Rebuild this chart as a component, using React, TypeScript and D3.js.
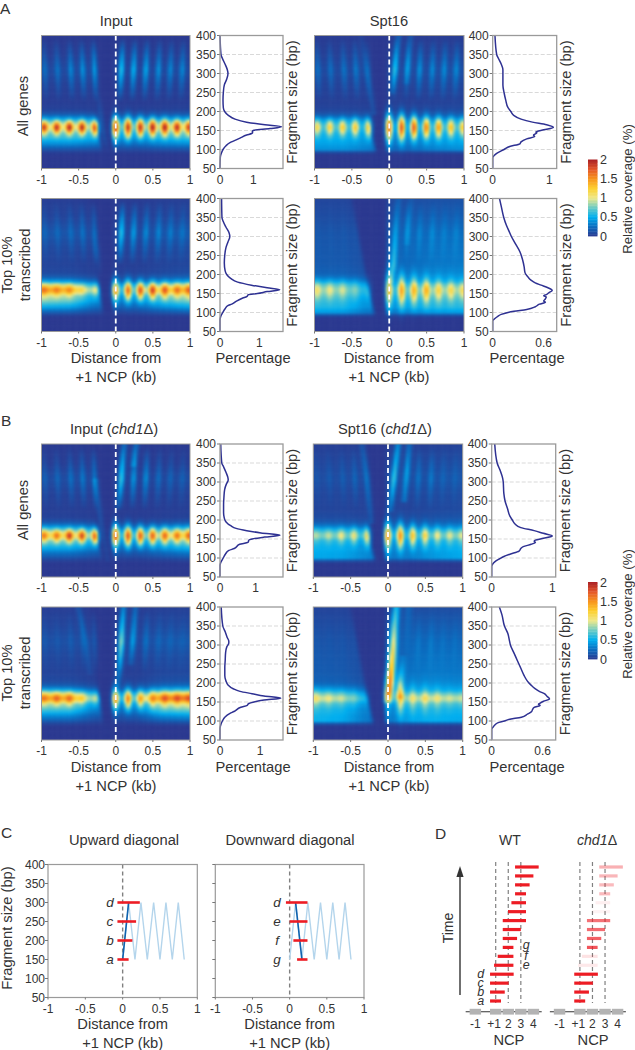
import React, { useMemo } from "react";
import * as d3 from "d3";

const FONT = "'Liberation Sans', Arial, sans-serif";
const INK = "#333333";

// ---- shared axes ----
const sizeTicks = [50, 100, 150, 200, 250, 300, 350, 400];
const distTicks = [-1, -0.5, 0, 0.5, 1];
const distLabels = ["-1", "-0.5", "0", "0.5", "1"];

// ---- colour key ----
const colorStops = [0, 0.25, 0.5, 0.75, 1, 1.25, 1.5, 1.75, 2];
const colorValues = ["#2b3990", "#0b6cbf", "#00aeef", "#6ccbc4", "#eee88a", "#fdd02f", "#f7941d", "#e4572a", "#a91f24"];
const keyTicks = [0, 0.5, 1, 1.5, 2];

// ---- heatmap: horizontal band level by fragment size ----
const bandSizes = [50, 85, 92, 100, 115, 130, 145, 160, 172, 182, 192, 205, 230, 270, 310, 350, 400];
const a1Band = [0, 0, 0.02, 0.12, 0.38, 0.62, 0.75, 1.05, 0.8, 0.45, 0.18, 0.05, 0.02, 0.03, 0.08, 0.02, 0];
const a2Band = [0, 0, 0.02, 0.14, 0.42, 0.68, 0.85, 1.35, 0.95, 0.45, 0.2, 0.09, 0.06, 0.08, 0.15, 0.06, 0.03];
const a3Band = [0, 0, 0.04, 0.42, 0.5, 0.55, 0.58, 0.7, 0.58, 0.4, 0.2, 0.1, 0.05, 0.07, 0.12, 0.05, 0.02];
const a4Band = [0, 0, 0.05, 0.42, 0.58, 0.62, 0.72, 0.85, 0.72, 0.52, 0.42, 0.36, 0.3, 0.28, 0.25, 0.18, 0.12];
const b1Band = [0, 0, 0.02, 0.12, 0.3, 0.55, 0.75, 1.2, 0.85, 0.45, 0.18, 0.05, 0.03, 0.04, 0.09, 0.02, 0.01];
const b2Band = [0, 0, 0.03, 0.15, 0.35, 0.6, 0.8, 1.4, 1.0, 0.5, 0.22, 0.1, 0.06, 0.08, 0.13, 0.07, 0.03];
const b3Band = [0, 0, 0.05, 0.5, 0.52, 0.55, 0.6, 0.85, 0.65, 0.4, 0.25, 0.15, 0.09, 0.1, 0.15, 0.1, 0.05];
const b4Band = [0, 0, 0.05, 0.5, 0.52, 0.55, 0.65, 0.95, 0.72, 0.5, 0.42, 0.35, 0.3, 0.27, 0.23, 0.17, 0.1];

// ---- heatmap: band strength along the distance axis ----
const gainX = [-1, -0.6, -0.3, 0, 0.3, 0.6, 1];
const a1Gain = [0.95, 0.95, 0.8, 0.6, 0.6, 0.85, 0.95];
const a2Gain = [1.15, 1.05, 0.6, 0.4, 0.5, 0.85, 1.1];
const a3Gain = [0.9, 0.9, 0.75, 0.5, 0.55, 0.75, 0.9];
const a4Gain = [1.0, 0.95, 0.65, 0.6, 0.8, 0.95, 1.0];
const b1Gain = [1.0, 0.95, 0.65, 0.45, 0.45, 0.75, 1.05];
const b2Gain = [1.1, 1.05, 0.55, 0.35, 0.5, 1.1, 1.25];
const b3Gain = [0.95, 0.9, 0.7, 0.55, 0.6, 0.8, 0.95];
const b4Gain = [1.05, 0.95, 0.6, 0.5, 0.9, 1.0, 0.95];

// ---- heatmap: left-side attenuation above the mononucleosome band ----
const upperLeft = { a1: 1, a2: 0.8, a3: 0.7, a4: 0.55, b1: 1, b2: 0.8, b3: 0.7, b4: 0.55 };

// ---- heatmap: nucleosome spots at 158 bp ----
const spotX = [-0.96, -0.79, -0.62, -0.45, -0.27, 0, 0.17, 0.335, 0.5, 0.665, 0.83, 0.99];
const spotHeight = [12, 12, 12, 13, 14, 20, 19, 17, 16, 15, 14, 13];
const spotStretch = { a1: 1, a2: 1, a3: 1.25, a4: 1.5, b1: 1, b2: 1, b3: 1.25, b4: 1.5 };
const a1Spots = [1.0, 1.05, 1.1, 1.15, 1.2, 1.3, 1.35, 1.35, 1.3, 1.2, 1.1, 1.0];
const a2Spots = [0.25, 0.25, 0.25, 0.15, 0.3, 1.0, 1.15, 1.15, 1.0, 0.7, 0.45, 0.4];
const a3Spots = [0.6, 0.65, 0.7, 0.75, 0.85, 1.35, 1.45, 1.4, 1.15, 1.0, 0.8, 0.7];
const a4Spots = [0.3, 0.25, 0.2, 0.15, 0.15, 0.85, 0.9, 0.75, 0.7, 0.45, 0.4, 0.35];
const b1Spots = [0.55, 0.6, 0.9, 1.0, 1.2, 1.3, 1.3, 1.25, 1.05, 0.85, 0.65, 0.6];
const b2Spots = [0.25, 0.35, 0.35, 0.25, 0.25, 1.05, 1.05, 0.75, 0.45, 0.35, 0.3, 0.2];
const b3Spots = [0.15, 0.2, 0.35, 0.45, 0.7, 1.1, 1.1, 0.85, 0.65, 0.4, 0.3, 0.25];
const b4Spots = [0.2, 0.15, 0.1, 0.1, 0.05, 0.3, 0.65, 0.3, 0.3, 0.2, 0.1, 0.1];

// ---- heatmap: dinucleosome stripes around 310 bp ----
const stripeX = [-0.95, -0.78, -0.6, -0.44, -0.28, 0.08, 0.245, 0.41, 0.58, 0.74, 0.9];
const stripeShapeSizes = [225, 270, 310, 350, 395];
const stripeShape = [0, 0.55, 1, 0.6, 0];
const a1Stripes = [0.2, 0.22, 0.3, 0.35, 0.45, 0.6, 0.5, 0.45, 0.35, 0.3, 0.3];
const a2Stripes = [0.1, 0.12, 0.15, 0.2, 0.25, 0.6, 0.4, 0.3, 0.25, 0.2, 0.15];
const a3Stripes = [0.2, 0.2, 0.22, 0.25, 0.15, 0.3, 0.25, 0.35, 0.3, 0.3, 0.28];
const a4Stripes = [0.02, 0.02, 0.02, 0.02, 0, 0.1, 0.15, 0.15, 0.15, 0.1, 0.1];
const b1Stripes = [0.12, 0.15, 0.2, 0.25, 0.3, 0.35, 0.4, 0.35, 0.2, 0.15, 0.12];
const b2Stripes = [0.05, 0.05, 0.08, 0.1, 0.15, 0.1, 0.1, 0.2, 0.1, 0.08, 0.05];
const b3Stripes = [0.05, 0.08, 0.1, 0.15, 0.05, 0.1, 0.05, 0.2, 0.2, 0.1, 0.08];
const b4Stripes = [0.02, 0.02, 0.02, 0.02, 0, 0, 0, 0.08, 0.08, 0.05, 0.05];

// ---- heatmap: leaning streaks, as [size, distance, level] knots ----
type Knot = [number, number, number];
const a1Streaks: Knot[][] = [[[90, -0.1, 0.0], [130, -0.15, 0.1], [190, -0.2, 0.12], [260, -0.25, 0.0]]];
const a2Streaks: Knot[][] = [[[190, -0.21, 0.0], [260, -0.25, 0.1], [320, -0.29, 0.0]]];
const a3Streaks: Knot[][] = [
  [[250, 0.04, 0.1], [310, 0.08, 0.3], [400, 0.13, 0.18]],
  [[270, 0.235, 0.1], [330, 0.26, 0.2], [400, 0.29, 0.12]],
  [[190, -0.2, 0.1], [310, -0.3, 0.15], [400, -0.37, 0.03]],
];
const a4Streaks: Knot[][] = [
  [[180, 0.03, 0.2], [225, 0.06, 0.45], [310, 0.09, 0.2], [400, 0.13, 0.1]],
  [[280, 0.24, 0.08], [350, 0.27, 0.12], [400, 0.3, 0.05]],
];
const b1Streaks: Knot[][] = [
  [[230, 0.03, 0.1], [310, 0.08, 0.3], [400, 0.12, 0.25]],
  [[340, 0.24, 0.2], [400, 0.28, 0.25]],
  [[90, -0.1, 0.05], [200, -0.2, 0.1], [300, -0.27, 0.15]],
];
const b2Streaks: Knot[][] = [
  [[190, 0.03, 0.1], [250, 0.06, 0.4], [310, 0.08, 0.72], [350, 0.09, 0.5], [400, 0.11, 0.32]],
  [[250, 0.2, 0.1], [310, 0.23, 0.32], [400, 0.27, 0.2]],
  [[220, -0.34, 0.05], [310, -0.4, 0.14], [400, -0.5, 0.1]],
];
const b3Streaks: Knot[][] = [
  [[220, 0.03, 0.15], [310, 0.085, 0.5], [400, 0.14, 0.35]],
  [[250, 0.22, 0.2], [330, 0.26, 0.35], [400, 0.29, 0.2]],
  [[190, -0.22, 0.12], [310, -0.28, 0.25], [400, -0.34, 0.12]],
];
const b4Streaks: Knot[][] = [
  [[150, 0, 0.4], [180, 0.02, 1.2], [210, 0.035, 1.4], [250, 0.055, 1.15], [300, 0.075, 0.95], [350, 0.09, 0.7], [400, 0.115, 0.5]],
  [[160, 0.16, 0.3], [200, 0.165, 0.4], [260, 0.2, 0.1]],
  [[280, 0.25, 0.02], [400, 0.28, 0.12]],
];

// ---- heatmap: depleted wedge left edge by fragment size ----
const wedgeSizes = [100, 160, 400];
const wedgeAll = [-0.18, -0.26, -0.35];
const wedgeTopInput = [-0.17, -0.22, -0.35];
const wedgeTopSpt = [-0.2, -0.27, -0.5];

// ---- marginal fragment-size curves: size, percentage ----
const a1CurveSize = [400, 350, 340, 325, 310, 300, 285, 270, 250, 230, 210, 200, 190, 180, 172, 165, 160, 155, 150, 147, 144, 142, 138, 130, 122, 118, 110, 100, 90, 80, 50];
const a1CurvePct = [0, 0.03, 0.07, 0.15, 0.22, 0.24, 0.2, 0.13, 0.1, 0.09, 0.1, 0.14, 0.25, 0.45, 0.8, 1.35, 1.85, 1.5, 1.0, 0.97, 0.98, 0.95, 0.8, 0.6, 0.4, 0.3, 0.18, 0.09, 0.04, 0.01, 0];
const a2CurveSize = [400, 350, 340, 325, 310, 300, 285, 270, 250, 230, 210, 200, 190, 180, 172, 165, 160, 155, 150, 147, 144, 142, 138, 130, 122, 118, 110, 100, 90, 80, 50];
const a2CurvePct = [0.04, 0.05, 0.08, 0.15, 0.23, 0.25, 0.2, 0.15, 0.12, 0.11, 0.13, 0.17, 0.27, 0.45, 0.8, 1.2, 1.52, 1.2, 0.95, 0.72, 0.7, 0.68, 0.58, 0.42, 0.3, 0.2, 0.13, 0.07, 0.02, 0, 0];
const a3CurveSize = [400, 350, 340, 325, 310, 300, 270, 250, 230, 210, 200, 190, 180, 172, 165, 158, 152, 146, 144, 142, 138, 134, 128, 120, 115, 108, 100, 90, 85, 78, 50];
const a3CurvePct = [0.04, 0.07, 0.1, 0.15, 0.18, 0.18, 0.18, 0.2, 0.23, 0.27, 0.32, 0.37, 0.5, 0.7, 0.95, 1.07, 0.9, 0.76, 0.78, 0.76, 0.72, 0.74, 0.6, 0.5, 0.48, 0.3, 0.2, 0.07, 0.03, 0, 0];
const a4CurveSize = [400, 380, 350, 330, 310, 300, 280, 260, 240, 220, 205, 195, 185, 178, 172, 165, 158, 152, 147, 144, 141, 136, 130, 127, 122, 115, 108, 103, 100, 95, 90, 85, 78, 50];
const a4CurvePct = [0.08, 0.1, 0.13, 0.16, 0.2, 0.22, 0.27, 0.32, 0.35, 0.37, 0.38, 0.41, 0.45, 0.5, 0.57, 0.65, 0.7, 0.66, 0.63, 0.6, 0.63, 0.62, 0.6, 0.62, 0.55, 0.5, 0.4, 0.25, 0.18, 0.1, 0.06, 0.03, 0, 0];
const b1CurveSize = [400, 350, 340, 325, 312, 305, 295, 280, 260, 240, 220, 205, 195, 185, 178, 172, 166, 160, 155, 150, 146, 144, 141, 136, 125, 120, 110, 100, 90, 80, 50];
const b1CurvePct = [0.02, 0.05, 0.1, 0.17, 0.22, 0.23, 0.18, 0.13, 0.11, 0.1, 0.1, 0.12, 0.17, 0.3, 0.45, 0.75, 1.15, 1.68, 1.25, 0.9, 0.8, 0.8, 0.78, 0.55, 0.4, 0.25, 0.15, 0.09, 0.03, 0, 0];
const b2CurveSize = [400, 350, 335, 320, 310, 305, 295, 280, 260, 240, 220, 205, 195, 185, 178, 172, 166, 160, 155, 150, 146, 144, 141, 136, 125, 120, 110, 100, 90, 80, 50];
const b2CurvePct = [0.03, 0.07, 0.13, 0.18, 0.22, 0.22, 0.17, 0.14, 0.13, 0.12, 0.12, 0.15, 0.2, 0.33, 0.5, 0.8, 1.1, 1.52, 1.1, 0.85, 0.72, 0.7, 0.68, 0.52, 0.35, 0.25, 0.12, 0.06, 0.02, 0, 0];
const b3CurveSize = [400, 350, 330, 310, 300, 270, 250, 230, 210, 200, 190, 180, 172, 165, 158, 152, 147, 144, 141, 136, 130, 125, 118, 110, 104, 98, 90, 85, 78, 50];
const b3CurvePct = [0.05, 0.09, 0.14, 0.18, 0.19, 0.2, 0.22, 0.26, 0.3, 0.34, 0.38, 0.48, 0.7, 0.85, 1.0, 0.85, 0.72, 0.7, 0.72, 0.65, 0.52, 0.48, 0.45, 0.3, 0.2, 0.13, 0.05, 0.02, 0, 0];
const b4CurveSize = [400, 380, 350, 330, 310, 300, 280, 260, 240, 220, 205, 195, 185, 178, 172, 165, 158, 152, 147, 144, 141, 136, 130, 125, 118, 110, 104, 100, 95, 90, 85, 78, 50];
const b4CurvePct = [0.09, 0.12, 0.15, 0.19, 0.21, 0.22, 0.26, 0.3, 0.34, 0.38, 0.42, 0.46, 0.51, 0.56, 0.62, 0.65, 0.68, 0.61, 0.57, 0.55, 0.57, 0.5, 0.48, 0.47, 0.42, 0.35, 0.2, 0.15, 0.07, 0.04, 0.02, 0, 0];

// ---- panel C ----
const zigX = [0, 0.08, 0.165, 0.245, 0.33, 0.415, 0.5, 0.58, 0.665, 0.745, 0.825];
const zigSize = [150, 300, 150, 300, 150, 300, 150, 300, 150, 300, 150];
const upLabels = ["a", "b", "c", "d"];
const upSizes = [150, 200, 250, 300];
const upStart = [-0.07, -0.07, -0.07, -0.07];
const upEnd = [0.08, 0.13, 0.18, 0.23];
const downLabels = ["g", "f", "e", "d"];
const downStart = [0.1, 0.05, 0, -0.05];
const downEnd = [0.24, 0.24, 0.24, 0.24];

// ---- panel D ----
const ncpLabels = ["-1", "+1", "2", "3", "4"];
const ncpPos = [-0.62, 1, 2, 3, 4];
const dashNcp = [1, 2, 3];
const barStart = [0.55, 0.55, 0.55, 0.55, 0.87, 1.16, 1.56, 1.56, 1.56, 1.56, 1.98, 2.25, 2.54, 2.54, 2.54, 2.54];
const barEnd = [1.42, 1.72, 2.03, 2.43, 2.41, 2.41, 2.41, 2.7, 3.0, 3.41, 3.41, 3.41, 3.41, 3.7, 4.0, 4.42];
const chd1Alpha = [1, 1, 1, 1, 0.1, 0.13, 0.75, 0.7, 0.65, 0.62, 0.05, 0.07, 0.3, 0.3, 0.32, 0.35];

const color = d3.scaleLinear<string>().domain(colorStops).range(colorValues).interpolate(d3.interpolateRgb).clamp(true);
const cellXs = d3.range(-1.06, 1.06, 2 / 62);
const cellSizes = d3.range(38, 412, 350 / 56);

function makeField(
  band: number[],
  gain: number[],
  spots: number[],
  stripes: number[],
  streaks: Knot[][],
  wedge: number[],
  stretch: number,
  upper: number,
  streakWidth = 0.028
) {
  const bandS = d3.scaleLinear().domain(bandSizes).range(band).clamp(true);
  const gainS = d3.scaleLinear().domain(gainX).range(gain).clamp(true);
  const wedgeS = d3.scaleLinear().domain(wedgeSizes).range(wedge).clamp(true);
  const shape = d3.scaleLinear().domain(stripeShapeSizes).range(stripeShape).clamp(true);
  const streakS = streaks.map((k) => ({
    lo: k[0][0],
    hi: k[k.length - 1][0],
    x: d3.scaleLinear().domain(k.map((d) => d[0])).range(k.map((d) => d[1])),
    v: d3.scaleLinear().domain(k.map((d) => d[0])).range(k.map((d) => d[2])),
  }));
  const step = (a: number, b: number, t: number) => {
    const u = Math.max(0, Math.min(1, (t - a) / (b - a)));
    return u * u * (3 - 2 * u);
  };
  const g = (d: number, w: number) => Math.exp((-d * d) / (2 * w * w));
  return (x: number, s: number) => {
    const w = wedgeS(s);
    const inWedge = step(w - 0.04, w + 0.04, x) * (1 - step(-0.05, -0.01, x));
    const up = 1 - (1 - upper) * step(175, 205, s) * (1 - step(-0.06, -0.02, x));
    let v = bandS(s) * gainS(x) * (1 - inWedge) * up;
    spots.forEach((sv, i) => {
      v += sv * g(x - spotX[i], 0.032) * g(s - 158, spotHeight[i] * stretch);
    });
    const sh = shape(s);
    if (sh > 0) {
      stripes.forEach((sv, i) => {
        const lean = stripeX[i] < 0 ? -0.00022 : 0.00022;
        v += sv * sh * g(x - (stripeX[i] + lean * (s - 310)), 0.026);
      });
    }
    streakS.forEach((st) => {
      if (s >= st.lo && s <= st.hi + 12) v += st.v(Math.min(s, st.hi)) * g(x - st.x(Math.min(s, st.hi)), streakWidth);
    });
    return v;
  };
}

function RotText({ x, y, children, size = 14.7 }: any) {
  return (
    <text transform={`translate(${x},${y}) rotate(-90)`} textAnchor="middle" fontSize={size} fill={INK}>
      {children}
    </text>
  );
}

function Heat({ id, x0, x1, y0, y1, field }: any) {
  const xS = d3.scaleLinear().domain([-1, 1]).range([x0, x1]);
  const yS = d3.scaleLinear().domain([50, 400]).range([y1, y0]);
  const cells = useMemo(() => {
    const out: any[] = [];
    cellXs.forEach((cx) => cellSizes.forEach((cs) => out.push([cx, cs, color(field(cx, cs))])));
    return out;
  }, [field]);
  const cw = xS(2 / 62) - xS(0) + 0.6;
  const ch = yS(0) - yS(350 / 56) + 0.6;
  return (
    <g>
      <clipPath id={id}>
        <rect x={x0} y={y0} width={x1 - x0} height={y1 - y0} />
      </clipPath>
      <g clipPath={`url(#${id})`}>
        <g filter="url(#soft)">
          {cells.map((c, i) => (
            <rect key={i} x={xS(c[0]) - cw / 2} y={yS(c[1]) - ch / 2} width={cw} height={ch} fill={c[2]} />
          ))}
        </g>
      </g>
      <line x1={xS(0)} x2={xS(0)} y1={y0} y2={y1} stroke="#fff" strokeWidth={1.8} strokeDasharray="5 3" />
      <rect x={x0} y={y0} width={x1 - x0} height={y1 - y0} fill="none" stroke="#9a9a9a" strokeWidth={1} />
      {distTicks.map((t, i) => (
        <g key={t}>
          <line x1={xS(t)} x2={xS(t)} y1={y1} y2={y1 + 2} stroke="#777" />
          <text x={xS(t)} y={y1 + 15} textAnchor="middle" fontSize={12} fill={INK}>
            {distLabels[i]}
          </text>
        </g>
      ))}
    </g>
  );
}

function Curve({ x0, x1, y0, y1, sizes, pct, pxPerUnit, ticks }: any) {
  const xS = d3.scaleLinear().domain([0, (x1 - x0) / pxPerUnit]).range([x0, x1]);
  const yS = d3.scaleLinear().domain([50, 400]).range([y1, y0]);
  const line = d3
    .line<number>()
    .x((d) => xS(d))
    .y((_, i) => yS(sizes[i]))
    .curve(d3.curveMonotoneY);
  return (
    <g>
      {sizeTicks.map((t) => (
        <g key={t}>
          {t > 50 && t < 400 && (
            <line x1={x0} x2={x1} y1={yS(t)} y2={yS(t)} stroke="#d9d9d9" strokeWidth={1} strokeDasharray="4 2" />
          )}
          <line x1={x0 - 3} x2={x0} y1={yS(t)} y2={yS(t)} stroke="#777" />
          <text x={x0 - 4} y={yS(t) + 4.3} textAnchor="end" fontSize={12} fill={INK}>
            {t}
          </text>
        </g>
      ))}
      <path d={line(pct) as string} fill="none" stroke="#2e3192" strokeWidth={1.5} />
      <rect x={x0} y={y0} width={x1 - x0} height={y1 - y0} fill="none" stroke="#9a9a9a" strokeWidth={1.3} />
      {ticks.map((t: number) => (
        <text key={t} x={xS(t)} y={y1 + 15} textAnchor="middle" fontSize={12} fill={INK}>
          {t}
        </text>
      ))}
    </g>
  );
}

function Key({ y0, y1, labelY }: any) {
  const yS = d3.scaleLinear().domain([0, 2]).range([y1, y0]);
  const steps = d3.range(0, 2, 0.04);
  return (
    <g>
      {steps.map((v) => (
        <rect key={v} x={588} y={yS(v + 0.04)} width={9.5} height={yS(v) - yS(v + 0.04) + 0.4} fill={color(v + 0.02)} />
      ))}
      {keyTicks.map((t) => (
        <text key={t} x={600} y={yS(t) + 4.5} fontSize={12.5} fill={INK}>
          {t}
        </text>
      ))}
      <RotText x={632} y={labelY} size={13.2}>
        Relative coverage (%)
      </RotText>
    </g>
  );
}

const rows = {
  a1: [35.5, 168.5],
  a2: [198.5, 331.5],
  b1: [444, 577],
  b2: [607, 740],
};
const colLeft = { hx0: 41.5, hx1: 190, cx0: 220, cx1: 283 };
const colA = { hx0: 314.5, hx1: 464, cx0: 492.7, cx1: 556.7 };
const colB = { hx0: 313.3, hx1: 462.7, cx0: 491.7, cx1: 555.7 };

function Cell({ id, col, row, field, sizes, pct, px, ticks }: any) {
  return (
    <g>
      <Heat id={id} x0={col.hx0} x1={col.hx1} y0={row[0]} y1={row[1]} field={field} />
      <Curve x0={col.cx0} x1={col.cx1} y0={row[0]} y1={row[1]} sizes={sizes} pct={pct} pxPerUnit={px} ticks={ticks} />
      <RotText x={col.cx1 + 14} y={(row[0] + row[1]) / 2}>
        Fragment size (bp)
      </RotText>
    </g>
  );
}

function Chd1({ x, y }: any) {
  return (
    <text x={x} y={y} textAnchor="middle" fontSize={14.2} fill={INK}>
      <tspan fontStyle="italic">chd1</tspan>Δ
    </text>
  );
}

function XLabel({ x, y }: any) {
  return (
    <g fontSize={14.7} fill={INK} textAnchor="middle">
      <text x={x} y={y}>
        Distance from
      </text>
      <text x={x} y={y + 18.5}>
        +1 NCP (kb)
      </text>
    </g>
  );
}

function Diagram({ x0, x1, showY, dark, starts, ends, letters }: any) {
  const y0 = 864.5;
  const y1 = 997.5;
  const xS = d3.scaleLinear().domain([-1, 1]).range([x0, x1]);
  const yS = d3.scaleLinear().domain([50, 400]).range([y1, y0]);
  const line = d3
    .line<number>()
    .x((d) => xS(d))
    .y((_, i) => yS(zigSize[i]));
  const darkIdx = dark;
  return (
    <g>
      <line x1={xS(0)} x2={xS(0)} y1={y0} y2={y1} stroke="#808080" strokeWidth={1.4} strokeDasharray="4 3" />
      <path d={line(zigX) as string} fill="none" stroke="#b4d5ec" strokeWidth={1.4} />
      <line
        x1={xS(zigX[darkIdx])}
        x2={xS(zigX[darkIdx + 1])}
        y1={yS(zigSize[darkIdx])}
        y2={yS(zigSize[darkIdx + 1])}
        stroke="#0f62ae"
        strokeWidth={1.6}
      />
      {upSizes.map((s, i) => (
        <g key={s}>
          <line x1={xS(starts[i])} x2={xS(ends[i])} y1={yS(s)} y2={yS(s)} stroke="#ed1c24" strokeWidth={2.6} />
          <text x={xS(-0.17)} y={yS(s) + 4.5} textAnchor="middle" fontSize={13.5} fontStyle="italic" fill={INK}>
            {letters[i]}
          </text>
        </g>
      ))}
      <rect x={x0} y={y0} width={x1 - x0} height={y1 - y0} fill="none" stroke="#9a9a9a" strokeWidth={1.2} />
      {sizeTicks.map((t) => (
        <g key={t}>
          <line x1={x0 - 3} x2={x0} y1={yS(t)} y2={yS(t)} stroke="#777" />
          {showY && (
            <text x={x0 - 3} y={yS(t) + 4.3} textAnchor="end" fontSize={12} fill={INK}>
              {t}
            </text>
          )}
        </g>
      ))}
      {distTicks.map((t, i) => (
        <g key={t}>
          <line x1={xS(t)} x2={xS(t)} y1={y1} y2={y1 + 2} stroke="#777" />
          <text x={xS(t)} y={y1 + 15} textAnchor="middle" fontSize={12} fill={INK}>
            {distLabels[i]}
          </text>
        </g>
      ))}
      <XLabel x={(x0 + x1) / 2} y={1029} />
    </g>
  );
}

function Ladder({ offset, alpha }: any) {
  const xS = d3.scaleLinear().domain([1, 4]).range([495.7 + offset, 533.4 + offset]);
  const rowS = d3.scaleLinear().domain([0, 15]).range([1001, 867]);
  const axisY = 1011.7;
  return (
    <g>
      {dashNcp.map((n) => (
        <line key={n} x1={xS(n)} x2={xS(n)} y1={862} y2={1003} stroke="#808080" strokeWidth={1.2} strokeDasharray="4 3" />
      ))}
      {barStart.map((s, i) => (
        <line key={i} x1={xS(s)} x2={xS(barEnd[i])} y1={rowS(i)} y2={rowS(i)} stroke="#ed1c24" strokeWidth={3.2} strokeOpacity={alpha ? alpha[i] : 1} />
      ))}
      <line x1={xS(-1.39)} x2={xS(4.66)} y1={axisY} y2={axisY} stroke="#333" strokeWidth={1.1} />
      {ncpPos.map((p, i) => (
        <g key={p}>
          <rect x={xS(p) - 5.7} y={axisY - 2.9} width={11.4} height={5.8} fill="#b3b3b3" />
          <text x={xS(p) - (i === 1 ? 1.5 : 0)} y={axisY + 16} textAnchor="middle" fontSize={12} fill={INK}>
            {ncpLabels[i]}
          </text>
        </g>
      ))}
      <text x={xS(2.05)} y={1045} textAnchor="middle" fontSize={14.7} fill={INK}>
        NCP
      </text>
    </g>
  );
}

export default function App() {
  const fields = useMemo(
    () => ({
      a1: makeField(a1Band, a1Gain, a1Spots, a1Stripes, a1Streaks, wedgeAll, spotStretch.a1, upperLeft.a1),
      a2: makeField(a2Band, a2Gain, a2Spots, a2Stripes, a2Streaks, wedgeTopInput, spotStretch.a2, upperLeft.a2),
      a3: makeField(a3Band, a3Gain, a3Spots, a3Stripes, a3Streaks, wedgeAll, spotStretch.a3, upperLeft.a3),
      a4: makeField(a4Band, a4Gain, a4Spots, a4Stripes, a4Streaks, wedgeTopSpt, spotStretch.a4, upperLeft.a4),
      b1: makeField(b1Band, b1Gain, b1Spots, b1Stripes, b1Streaks, wedgeAll, spotStretch.b1, upperLeft.b1),
      b2: makeField(b2Band, b2Gain, b2Spots, b2Stripes, b2Streaks, wedgeTopInput, spotStretch.b2, upperLeft.b2),
      b3: makeField(b3Band, b3Gain, b3Spots, b3Stripes, b3Streaks, wedgeAll, spotStretch.b3, upperLeft.b3),
      b4: makeField(b4Band, b4Gain, b4Spots, b4Stripes, b4Streaks, wedgeTopSpt, spotStretch.b4, upperLeft.b4, 0.036),
    }),
    []
  );
  const rowS = d3.scaleLinear().domain([0, 15]).range([1001, 867]);
  const xD = d3.scaleLinear().domain([1, 4]).range([495.7, 533.4]);
  return (
    <svg
      width={635}
      height={1050}
      viewBox="0 0 635 1050"
      style={{ position: "absolute", left: 0, top: 0, display: "block" }}
      fontFamily={FONT}
    >
      <defs>
        <filter id="soft" x="-5%" y="-5%" width="110%" height="110%" colorInterpolationFilters="sRGB">
          <feGaussianBlur stdDeviation="0.8" />
        </filter>
      </defs>
      <rect width={635} height={1050} fill="#fff" />

      <g fontSize={15.5} fill={INK}>
        <text x={0} y={14}>A</text>
        <text x={1} y={426}>B</text>
        <text x={1} y={838}>C</text>
        <text x={435} y={839}>D</text>
      </g>

      <g fontSize={14.7} fill={INK} textAnchor="middle">
        <text x={116} y={26}>Input</text>
        <text x={389} y={26}>Spt16</text>
        <text x={114} y={434}>
          Input (<tspan fontStyle="italic">chd1</tspan>Δ)
        </text>
        <text x={385} y={434}>
          Spt16 (<tspan fontStyle="italic">chd1</tspan>Δ)
        </text>
        <text x={253} y={363}>Percentage</text>
        <text x={527} y={363}>Percentage</text>
        <text x={253} y={772}>Percentage</text>
        <text x={527} y={772}>Percentage</text>
      </g>

      <RotText x={28} y={106}>All genes</RotText>
      <RotText x={12} y={265}>Top 10%</RotText>
      <RotText x={30} y={265}>transcribed</RotText>
      <RotText x={28} y={510}>All genes</RotText>
      <RotText x={12} y={673}>Top 10%</RotText>
      <RotText x={30} y={673}>transcribed</RotText>

      <Cell id="c1" col={colLeft} row={rows.a1} field={fields.a1} sizes={a1CurveSize} pct={a1CurvePct} px={33.3} ticks={[0, 1]} />
      <Cell id="c2" col={colLeft} row={rows.a2} field={fields.a2} sizes={a2CurveSize} pct={a2CurvePct} px={39.3} ticks={[0, 1]} />
      <Cell id="c3" col={colA} row={rows.a1} field={fields.a3} sizes={a3CurveSize} pct={a3CurvePct} px={56.7} ticks={[0, 1]} />
      <Cell id="c4" col={colA} row={rows.a2} field={fields.a4} sizes={a4CurveSize} pct={a4CurvePct} px={85} ticks={[0, 0.6]} />
      <Cell id="c5" col={colLeft} row={rows.b1} field={fields.b1} sizes={b1CurveSize} pct={b1CurvePct} px={35.7} ticks={[0, 1]} />
      <Cell id="c6" col={colLeft} row={rows.b2} field={fields.b2} sizes={b2CurveSize} pct={b2CurvePct} px={40} ticks={[0, 1]} />
      <Cell id="c7" col={colB} row={rows.b1} field={fields.b3} sizes={b3CurveSize} pct={b3CurvePct} px={60.7} ticks={[0, 1]} />
      <Cell id="c8" col={colB} row={rows.b2} field={fields.b4} sizes={b4CurveSize} pct={b4CurvePct} px={85} ticks={[0, 0.6]} />

      <XLabel x={116} y={363} />
      <XLabel x={389} y={363} />
      <XLabel x={116} y={772} />
      <XLabel x={389} y={772} />

      <Key y0={159.5} y1={236} labelY={189} />
      <Key y0={582} y1={659} labelY={614} />

      {/* Panel C */}
      <g fontSize={14.7} fill={INK} textAnchor="middle">
        <text x={124} y={845}>Upward diagonal</text>
        <text x={290} y={845}>Downward diagonal</text>
      </g>
      <RotText x={12} y={928}>Fragment size (bp)</RotText>
      <Diagram x0={48} x1={197.3} showY dark={0} starts={upStart} ends={upEnd} letters={upLabels} />
      <Diagram x0={215.3} x1={364} showY={false} dark={1} starts={downStart} ends={downEnd} letters={downLabels} />

      {/* Panel D */}
      <text x={510} y={845} textAnchor="middle" fontSize={14} fill={INK}>WT</text>
      <Chd1 x={597} y={845} />
      <line x1={460} x2={460} y1={995} y2={875} stroke={INK} strokeWidth={1.4} />
      <path d={d3.line()([[460, 866], [456.4, 877], [463.6, 877]]) + "Z"} fill={INK} />
      <RotText x={453} y={928} size={14}>Time</RotText>
      <Ladder offset={0} />
      <Ladder offset={84.2} alpha={chd1Alpha} />
      <g fontSize={12.5} fontStyle="italic" fill={INK} textAnchor="middle">
        {["a", "b", "c", "d"].map((l, i) => (
          <text key={l} x={xD(-0.19)} y={rowS(i) + 4}>{l}</text>
        ))}
        {["e", "f", "g"].map((l, i) => (
          <text key={l} x={xD(3.42)} y={rowS(4 + i) + 4 + (i === 2 ? -2 : 0)}>{l}</text>
        ))}
      </g>
    </svg>
  );
}
